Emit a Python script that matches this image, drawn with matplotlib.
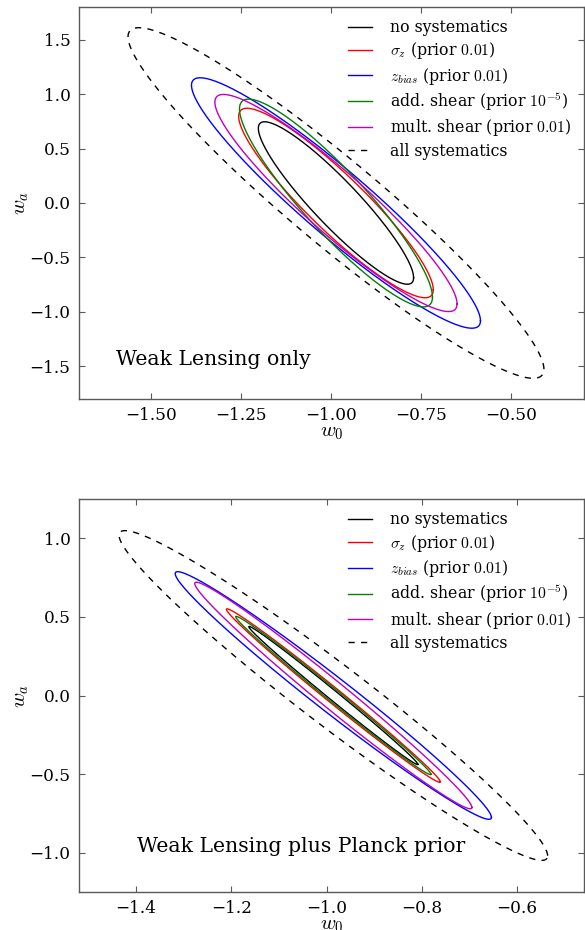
import numpy as np
import matplotlib
matplotlib.use("Agg")
import matplotlib.pyplot as plt

plt.rcParams['font.family'] = ['DejaVu Serif']
plt.rcParams['mathtext.fontset'] = 'cm'

# ---------------- data ----------------
labels = [r"no systematics", r"$\sigma_z$ (prior $0.01$)", r"$z_{bias}$ (prior $0.01$)",
          r"add. shear (prior $10^{-5}$)", r"mult. shear (prior $0.01$)", r"all systematics"]
colors = ["k", "r", "b", "g", "m", "k"]
styles = ["-", "-", "-", "-", "-", "--"]

# Panel 1: weak lensing only (half-extent in w0, half-extent in wa, correlation)
wl_center = (-0.987, 0.0)
wl_sig_w0 = [0.2154, 0.270, 0.4009, 0.2677, 0.336, 0.577]
wl_sig_wa = [0.746, 0.870, 1.150, 0.954, 0.997, 1.61]
wl_rho = [-0.919, -0.915, -0.940, -0.905, -0.929, -0.948]

# Panel 2: weak lensing plus Planck prior
pl_center = (-0.986, 0.0)
pl_sig_w0 = [0.1775, 0.2245, 0.332, 0.205, 0.291, 0.450]
pl_sig_wa = [0.439, 0.551, 0.787, 0.503, 0.720, 1.048]
pl_rho = [-0.996, -0.994, -0.984, -0.995, -0.988, -0.972]

top_xticks = [-1.50, -1.25, -1.00, -0.75, -0.50]
top_yticks = [-1.5, -1.0, -0.5, 0.0, 0.5, 1.0, 1.5]
bot_xticks = [-1.4, -1.2, -1.0, -0.8, -0.6]
bot_yticks = [-1.0, -0.5, 0.0, 0.5, 1.0]


def ellipse(cx, cy, sx, sy, rho, n=400):
    t = np.linspace(0, 2 * np.pi, n)
    x = cx + sx * np.cos(t)
    y = cy + sy * (rho * np.cos(t) + np.sqrt(1 - rho ** 2) * np.sin(t))
    return x, y


fig = plt.figure(figsize=(5.85, 9.3), dpi=100)
ax1 = fig.add_axes([79 / 585, 1 - 399 / 930, 505.3 / 585, 392 / 930])
ax2 = fig.add_axes([79 / 585, 1 - 891.7 / 930, 505.3 / 585, 392.4 / 930])


def draw(ax, center, sw0, swa, rho, xlim, ylim, xticks, yticks, xfmt, text, tpos):
    for i in range(len(labels)):
        x, y = ellipse(center[0], center[1], sw0[i], swa[i], rho[i])
        if styles[i] == "--":
            ax.plot(x, y, color=colors[i], lw=1.0, ls="--", dashes=(4.5, 4.5), label=labels[i])
        else:
            ax.plot(x, y, color=colors[i], lw=1.0, label=labels[i])
    ax.set_xlim(*xlim)
    ax.set_ylim(*ylim)
    ax.set_xticks(xticks)
    ax.set_yticks(yticks)
    ax.set_xticklabels([xfmt.format(v).replace("-", "\u2212") for v in xticks])
    ax.set_yticklabels([("{:.1f}".format(v)).replace("-", "\u2212") for v in yticks])
    ax.tick_params(direction="in", top=True, right=True, length=4, width=0.8,
                   color="0.35", labelsize=12.2, pad=6)
    for s in ax.spines.values():
        s.set_color("0.35")
        s.set_linewidth(1.0)
    ax.set_xlabel(r"$w_0$", fontsize=15, labelpad=-1)
    ax.set_ylabel(r"$w_a$", fontsize=15, labelpad=-1)
    ax.text(tpos[0], tpos[1], text, fontsize=14.7, ha="left", va="center")
    leg = ax.legend(loc="upper left", bbox_to_anchor=((348 - 79) / 505.3, 1.0 - 12 / 392),
                    frameon=False, fontsize=11.3, handlelength=1.5, handletextpad=1.15,
                    labelspacing=0.28, borderpad=0.0, borderaxespad=0.0)
    return leg


draw(ax1, wl_center, wl_sig_w0, wl_sig_wa, wl_rho, (-1.70, -0.298), (-1.8, 1.8),
     top_xticks, top_yticks, "{:.2f}", "Weak Lensing only", (-1.597, -1.44))
draw(ax2, pl_center, pl_sig_w0, pl_sig_wa, pl_rho, (-1.52, -0.459), (-1.247, 1.247),
     bot_xticks, bot_yticks, "{:.1f}", "Weak Lensing plus Planck prior", (-1.398, -0.959))

fig.savefig("out.png", dpi=100, facecolor="white")
